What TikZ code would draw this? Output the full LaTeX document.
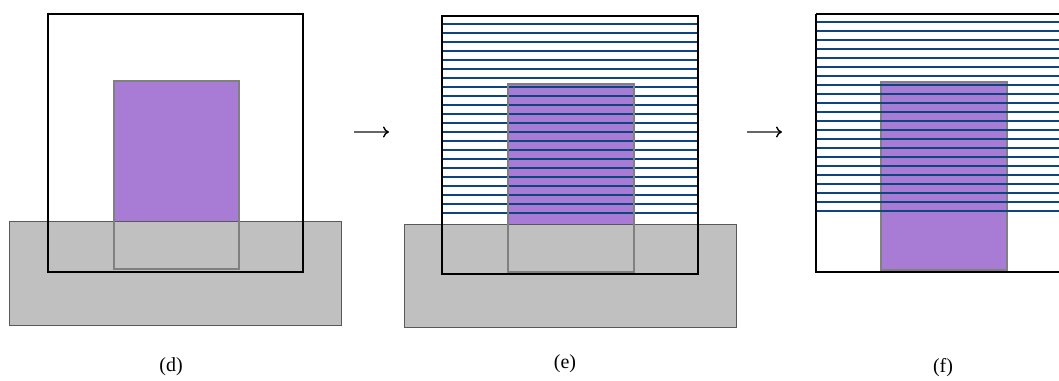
\documentclass[tikz,border=0pt]{standalone}
\usepackage{fontspec}
\setmainfont{Liberation Serif}
\usetikzlibrary{arrows.meta}
\definecolor{purp}{HTML}{A87BD4}
\definecolor{grayfill}{HTML}{C0C0C0}
\definecolor{navy}{HTML}{0E447F}
\begin{document}
\begin{tikzpicture}[x=1pt,y=-1pt,
  purplebox/.style={fill=purp},
  purpleedge/.style={draw=black!50,line width=1.6pt},
  graybox/.style={fill=grayfill,draw=black!65,line width=0.9pt},
  outerbox/.style={draw=black,line width=2pt},
  hline/.style={draw=navy,line width=2pt},
  lbl/.style={font=\fontsize{20}{24}\selectfont},
  arr/.style={draw=black!60,line width=1.4pt,-{Computer Modern Rightarrow[length=6pt,width=11pt,line width=1.4pt,black]}}]
\useasboundingbox (0,0) rectangle (1059,380);
% ---------- (d)
\fill[purplebox] (114,81) rectangle (239,269);
\path[graybox] (9,221) rectangle (341,325);
\path[purpleedge] (114,81) rectangle (239,269);
\path[outerbox] (48,14) rectangle (303,272);
% ---------- (e)
\fill[purplebox] (508,84) rectangle (634,272);
\foreach \i in {0,...,21}{
  \draw[hline] (442,{24+\i*9}) -- (698,{24+\i*9});
}
\path[graybox] (404,224) rectangle (736,327);
\path[purpleedge] (508,84) rectangle (634,272);
\path[outerbox] (442,16) rectangle (698,274);
% ---------- (f)
\fill[purplebox] (881,82) rectangle (1007,270);
\path[purpleedge] (881,82) rectangle (1007,270);
\foreach \i in {0,...,21}{
  \draw[hline] (816,{22+\i*9}) -- (1062,{22+\i*9});
}
\path[outerbox] (816,14) -- (1065,14) (816,14) -- (816,272) -- (1065,272);
% ---------- arrows and labels
\coordinate (a1s) at (354,132);
\coordinate (a1e) at (389,132);
\coordinate (a2s) at (747,132);
\coordinate (a2e) at (782,132);
\draw[arr] (a1s) -- (a1e);
\draw[arr] (a2s) -- (a2e);
\node[lbl] (ld) at (171,367) {(d)};
\node[lbl] (le) at (565,364) {(e)};
\node[lbl] (lf) at (943,368) {(f)};
\end{tikzpicture}
\end{document}
